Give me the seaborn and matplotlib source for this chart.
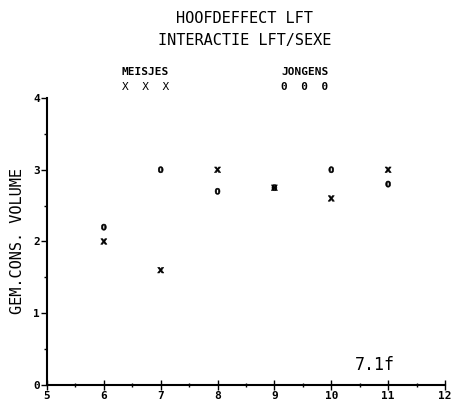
import matplotlib
matplotlib.use("Agg")
import matplotlib.pyplot as plt
from matplotlib.ticker import MultipleLocator
import seaborn as sns
import pandas as pd

# Mean consumption volume per age, split by sex
leeftijd = [6, 7, 8, 9, 10, 11]
meisjes = [2.0, 1.6, 3.0, 2.75, 2.6, 3.0]
jongens = [2.2, 3.0, 2.7, 2.75, 3.0, 2.8]

df = pd.DataFrame({
    "leeftijd": leeftijd * 2,
    "volume": meisjes + jongens,
    "sexe": ["MEISJES"] * len(leeftijd) + ["JONGENS"] * len(leeftijd),
})

sns.set_style("ticks")
plt.rcParams["font.family"] = ["DejaVu Sans Mono"]
for key in ("text.color", "axes.labelcolor", "xtick.color", "ytick.color", "axes.edgecolor"):
    plt.rcParams[key] = "black"

fig = plt.figure(figsize=(4.57, 4.08), dpi=100)
ax = fig.add_axes([0.1028, 0.0564, 0.8709, 0.7034])

sns.scatterplot(
    data=df, x="leeftijd", y="volume", style="sexe",
    markers={"MEISJES": r"$\mathbf{x}$", "JONGENS": r"$\mathbf{0}$"},
    color="black", s=20, linewidth=0.4, edgecolor="black",
    legend=False, ax=ax,
)

ax.set_xlim(5, 12)
ax.set_ylim(0, 4)
ax.xaxis.set_major_locator(MultipleLocator(1))
ax.xaxis.set_minor_locator(MultipleLocator(0.5))
ax.yaxis.set_major_locator(MultipleLocator(1))
ax.yaxis.set_minor_locator(MultipleLocator(0.5))
ax.tick_params(axis="x", which="major", direction="inout", length=7, width=1, labelsize=8, pad=1)
ax.tick_params(axis="x", which="minor", direction="inout", length=3, width=1)
ax.tick_params(axis="y", which="major", direction="out", length=4, width=1, labelsize=8, pad=1)
ax.tick_params(axis="y", which="minor", direction="out", length=2, width=1)
for lbl in ax.get_xticklabels() + ax.get_yticklabels():
    lbl.set_fontweight("bold")
for side in ("top", "right"):
    ax.spines[side].set_visible(False)
for side in ("left", "bottom"):
    ax.spines[side].set_linewidth(1.5)

ax.set_xlabel("")
ax.set_ylabel("GEM.CONS. VOLUME", fontsize=11, labelpad=6)

fig.text(0.535, 0.955, "HOOFDEFFECT LFT", ha="center", va="center", fontsize=11)
fig.text(0.535, 0.900, "INTERACTIE LFT/SEXE", ha="center", va="center", fontsize=11)
fig.text(0.318, 0.823, "MEISJES", ha="center", va="center", fontsize=8, fontweight="bold")
fig.text(0.318, 0.786, "X  X  X", ha="center", va="center", fontsize=8)
fig.text(0.667, 0.823, "JONGENS", ha="center", va="center", fontsize=8, fontweight="bold")
fig.text(0.667, 0.786, "0  0  0", ha="center", va="center", fontsize=8, fontweight="bold")
fig.text(0.82, 0.105, "7.1f", ha="center", va="center", fontsize=12)

fig.savefig("out.png", dpi=100, facecolor="white")
